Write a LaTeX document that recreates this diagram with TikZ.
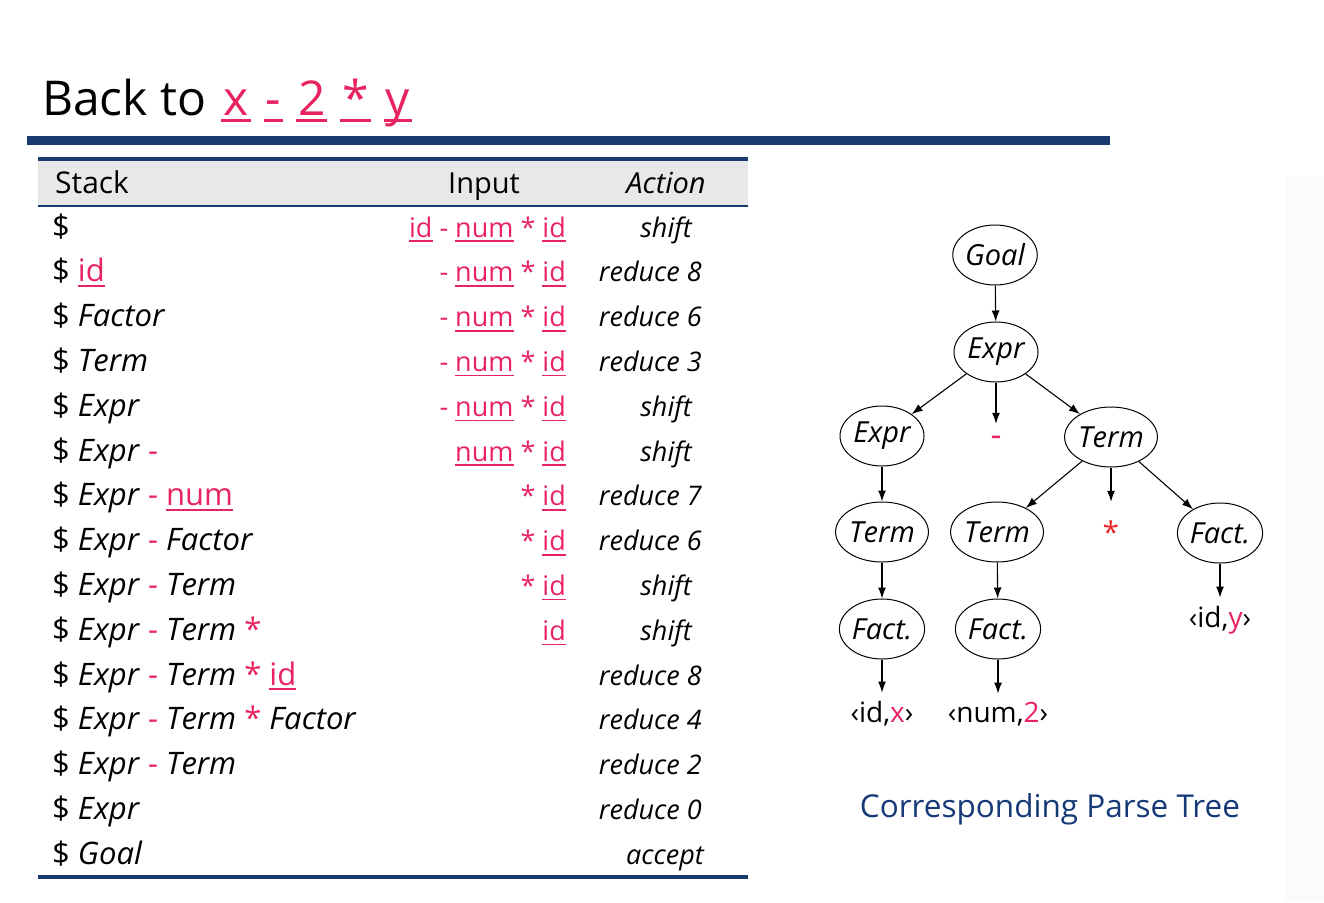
\documentclass[tikz,border=0pt]{standalone}
\usepackage{fontspec}
\setmainfont{Open Sans}
\usetikzlibrary{shapes.geometric,arrows.meta}

\definecolor{pk}{RGB}{232,36,96}
\definecolor{starred}{RGB}{240,40,40}
\definecolor{navy}{RGB}{24,58,110}
\definecolor{hdr}{RGB}{232,232,232}
\definecolor{capblue}{RGB}{22,58,120}

% tokens: underlined pink terminals, pink operators, italic nonterminals
\newcommand\ulbox[3]{\setbox0\hbox{#1}\rlap{\rule[-#2]{\wd0}{#3}}\box0}
\newcommand\tk[1]{{\color{pk}\ulbox{#1}{5pt}{1.6pt}}}
\newcommand\ttk[1]{{\color{pk}\ulbox{\hspace{2pt}#1\hspace{2pt}}{7pt}{3pt}}}
\newcommand\op[1]{{\color{pk}#1}}
\newcommand\nt[1]{\textit{#1}}
\newcommand\stackfont{\fontsize{31}{34}\selectfont}
\newcommand\inpfont{\fontsize{27}{30}\selectfont}
\newcommand\actfont{\fontsize{27}{30}\selectfont\itshape}

\begin{document}
\begin{tikzpicture}[x=1pt,y=-1pt,
  cell/.style={inner sep=0pt},
  ntnode/.style={ellipse,draw,line width=1pt,minimum width=84pt,minimum height=60pt,
    inner sep=0pt,font=\fontsize{29}{30}\selectfont\itshape},
  leaf/.style={inner sep=8pt,anchor=base,font=\fontsize{28}{30}\selectfont},
  edge/.style={-{Latex[length=11pt,width=8pt]},line width=1.1pt}]
\useasboundingbox (0,0) rectangle (1324,902);
\fill[black!1.5] (1286,176) rectangle (1324,902);

% title and rule
\node[anchor=base west,inner sep=0pt,font=\fontsize{48}{52}\selectfont] (title) at (42,115)
  {Back to\hspace{15pt}\ttk{x}\hspace{13pt}\ttk{-}\hspace{13pt}\ttk{2}\hspace{13pt}\ttk{*}\hspace{13pt}\ttk{y}};
\fill[navy] (27,136) rectangle (1110,145);

% table frame
\fill[hdr] (38,161) rectangle (748,205);
\fill[navy] (38,157) rectangle (748,161);
\fill[navy] (38,205) rectangle (748,207);
\fill[navy] (38,875) rectangle (748,879);

\node[cell,anchor=base west,font=\fontsize{30}{32}\selectfont] (hs) at (55,193) {Stack};
\node[cell,anchor=base,font=\fontsize{29}{32}\selectfont] (hi) at (484,193) {Input};
\node[cell,anchor=base,font=\fontsize{29}{32}\selectfont\itshape] (ha) at (666,193) {Action};

% rows: number / stack / input / action / action anchor / action x
\foreach \r/\st/\inp/\ac/\an/\ax in {
  1/{\$}/{\tk{id} \op{-} \tk{num} \op{*} \tk{id}}/shift/base/666,
  2/{\$ \tk{id}}/{\op{-} \tk{num} \op{*} \tk{id}}/reduce 8/base east/702,
  3/{\$ \nt{Factor}}/{\op{-} \tk{num} \op{*} \tk{id}}/reduce 6/base east/702,
  4/{\$ \nt{Term}}/{\op{-} \tk{num} \op{*} \tk{id}}/reduce 3/base east/702,
  5/{\$ \nt{Expr}}/{\op{-} \tk{num} \op{*} \tk{id}}/shift/base/666,
  6/{\$ \nt{Expr} \op{-}}/{\tk{num} \op{*} \tk{id}}/shift/base/666,
  7/{\$ \nt{Expr} \op{-} \tk{num}}/{\op{*} \tk{id}}/reduce 7/base east/702,
  8/{\$ \nt{Expr} \op{-} \nt{Factor}}/{\op{*} \tk{id}}/reduce 6/base east/702,
  9/{\$ \nt{Expr} \op{-} \nt{Term}}/{\op{*} \tk{id}}/shift/base/666,
  10/{\$ \nt{Expr} \op{-} \nt{Term} \op{*}}/{\tk{id}}/shift/base/666,
  11/{\$ \nt{Expr} \op{-} \nt{Term} \op{*} \tk{id}}/{}/reduce 8/base east/702,
  12/{\$ \nt{Expr} \op{-} \nt{Term} \op{*} \nt{Factor}}/{}/reduce 4/base east/702,
  13/{\$ \nt{Expr} \op{-} \nt{Term}}/{}/reduce 2/base east/702,
  14/{\$ \nt{Expr}}/{}/reduce 0/base east/702,
  15/{\$ \nt{Goal}}/{}/accept/base/665}
{
  \pgfmathsetmacro\yy{237+(\r-1)*44.8}
  \node[cell,anchor=base west,font=\stackfont] (s\r) at (52,\yy) {\st};
  \node[cell,anchor=base east,font=\inpfont] (i\r) at (566,\yy) {\inp};
  \node[cell,anchor=\an,font=\actfont] (a\r) at (\ax,\yy) {\ac};
}

% parse tree
\node[ntnode] (goal) at (995,255) {Goal};
\node[ntnode] (ex) at (996,352) {Expr};
\node[ntnode] (exl) at (882,436) {Expr};
\node[inner sep=0pt,minimum height=34pt,text=pk,font=\fontsize{34}{34}\selectfont] (minus) at (996,441) {-};
\node[ntnode] (tm) at (1111,437) {Term};
\node[ntnode] (tml) at (882,532) {Term};
\node[ntnode] (tmm) at (997,532) {Term};
\node[inner sep=0pt,minimum height=60pt,text=starred,font=\fontsize{30}{30}\selectfont] (star) at (1111,532) {*};
\node[ntnode] (fr) at (1220,533) {Fact.};
\node[ntnode] (fl) at (882,629) {Fact.};
\node[ntnode] (fm) at (998,629) {Fact.};
\node[leaf] (ly) at (1220,627) {‹id,\textcolor{pk}{y}›};
\node[leaf] (lx) at (882,722) {‹id,\textcolor{pk}{x}›};
\node[leaf] (l2) at (998,722) {‹num,\textcolor{pk}{2}›};

\draw[edge] (goal) -- (ex);
\draw[edge] (ex) -- (exl);
\draw[edge] (ex) -- (minus);
\draw[edge] (ex) -- (tm);
\draw[edge] (exl) -- (tml);
\draw[edge] (tml) -- (fl);
\draw[edge] (fl) -- (lx);
\draw[edge] (tm) -- (tmm);
\draw[edge] (tm) -- (star);
\draw[edge] (tm) -- (fr);
\draw[edge] (tmm) -- (fm);
\draw[edge] (fm) -- (l2);
\draw[edge] (fr) -- (ly);

\node[anchor=base,inner sep=0pt,text=capblue,font=\fontsize{31.5}{34}\selectfont] (cap) at (1050,817)
  {Corresponding Parse Tree};
\end{tikzpicture}
\end{document}
